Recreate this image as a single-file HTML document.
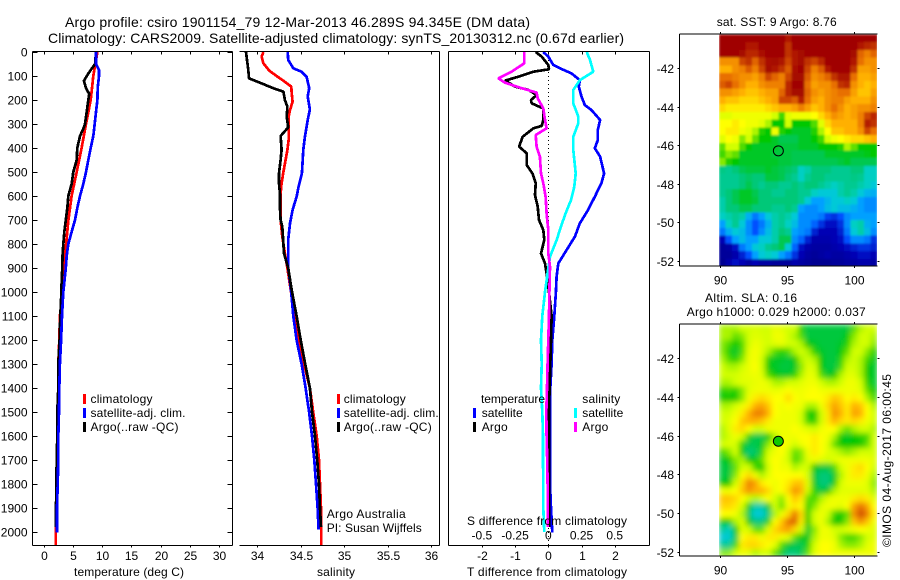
<!DOCTYPE html>
<html lang="en">
<head>
<meta charset="utf-8">
<title>Argo profile csiro 1901154_79</title>
<style>
html,body{margin:0;padding:0;background:#fff;width:900px;height:580px;overflow:hidden}
svg{display:block}
text{font-family:"Liberation Sans",sans-serif;font-size:12px;fill:#000}
.t14{font-size:14px}
</style>
</head>
<body>
<svg id="chart" width="900" height="580" viewBox="0 0 900 580" xmlns="http://www.w3.org/2000/svg">
<defs>
<filter id="soft" x="0" y="0" width="1" height="1" filterUnits="objectBoundingBox"><feGaussianBlur stdDeviation="3" edgeMode="duplicate"/></filter>
<filter id="softer" x="0" y="0" width="1" height="1" filterUnits="objectBoundingBox"><feGaussianBlur stdDeviation="1" edgeMode="duplicate"/></filter>
<clipPath id="clip-sla"><rect x="719" y="324.5" width="158" height="232"/></clipPath>
<clipPath id="clip-sst"><rect x="719" y="34.5" width="158" height="232"/></clipPath>
</defs>
<rect width="900" height="580" fill="#fff"/>
<text class="t14" x="65" y="27" textLength="465">Argo profile: csiro 1901154_79 12-Mar-2013 46.289S 94.345E (DM data)</text>
<text class="t14" x="48" y="43" textLength="576">Climatology: CARS2009. Satellite-adjusted climatology: synTS_20130312.nc (0.67d earlier)</text>
<g id="layer"></g>
<g>
<text x="74" y="576" textLength="110">temperature (deg C)</text>
<rect x="83" y="394" width="3" height="10" fill="#f00"/>
<rect x="83" y="408" width="3" height="10" fill="#00f"/>
<rect x="83" y="422" width="3" height="10" fill="#000"/>
<text x="90.5" y="403" textLength="62">climatology</text>
<text x="90.5" y="417" textLength="95">satellite-adj. clim.</text>
<text x="90.5" y="431" textLength="88">Argo(..raw -QC)</text>
</g>
<g>
<text x="317" y="576" textLength="38">salinity</text>
<rect x="337" y="394" width="3" height="10" fill="#f00"/>
<rect x="337" y="408" width="3" height="10" fill="#00f"/>
<rect x="337" y="422" width="3" height="10" fill="#000"/>
<text x="343.7" y="403" textLength="62">climatology</text>
<text x="343.7" y="417" textLength="95">satellite-adj. clim.</text>
<text x="343.7" y="431" textLength="88">Argo(..raw -QC)</text>
<text x="326.7" y="518" textLength="79">Argo Australia</text>
<text x="326.7" y="532" textLength="95">PI: Susan Wijffels</text>
</g>
<g>
<text x="481" y="403" textLength="64">temperature</text>
<text x="582.3" y="403" textLength="38">salinity</text>
<rect x="473" y="408" width="3" height="10" fill="#00f"/>
<rect x="473" y="422" width="3" height="10" fill="#000"/>
<rect x="574" y="408" width="3" height="10" fill="#0ff"/>
<rect x="574" y="422" width="3" height="10" fill="#f0f"/>
<text x="481.7" y="417" textLength="41">satellite</text>
<text x="481.7" y="431" textLength="26">Argo</text>
<text x="582.3" y="417" textLength="41">satellite</text>
<text x="582.3" y="431" textLength="26">Argo</text>
<text x="467" y="525" textLength="160">S difference from climatology</text>
<text x="467" y="576" textLength="160">T difference from climatology</text>
</g>
<g>
<text x="716.7" y="26" textLength="120">sat. SST: 9 Argo: 8.76</text>
<text x="705" y="302" textLength="92">Altim. SLA: 0.16</text>
<text x="686.7" y="316" textLength="179">Argo h1000: 0.029 h2000: 0.037</text>
<text transform="translate(891,547) rotate(-90)" x="0" y="0" textLength="173">©IMOS 04-Aug-2017 06:00:45</text>
</g>
</svg>
<script>
// ---- temperature panel (deg C) ----
const tempClimDepth = [0,100,200,300,400,500,600,700,800,900,1000,1100,1200,1300,1400,1500,1600,1700,1800,1900,2000,2056];
const tempClimValues = [9.2,8.5,8.05,7.25,6.5,5.66,4.8,4.25,3.85,3.5,3.3,2.8,2.7,2.53,2.53,2.36,2.36,2.25,2.25,2.13,2.1,2.1];
const tempSatDepth = [0,50,75,100,150,200,250,300,350,400,450,500,550,600,650,700,750,800,850,900,1000,1100,1200,1300,1400,1500,1600,1700,1800,1900,2003];
const tempSatValues = [8.96,8.96,9.47,9.47,9.25,9.2,8.96,8.73,8.5,8.05,7.65,7.25,6.8,6.23,5.77,5.37,4.8,4.23,3.96,3.8,3.38,3.16,3,2.8,2.7,2.65,2.53,2.53,2.42,2.3,2.3];
const tempArgoDepth = [0,50,70,90,120,150,175,200,250,300,320,350,400,450,500,550,600,650,700,750,800,850,900,950,1000,1100,1200,1300,1400,1500,1600,1700,1800,1900,1980];
const tempArgoValues = [8.96,8.8,8.2,7.65,6.9,7.25,7.8,7.65,7.37,7.08,6.8,6.23,5.77,5.66,5.09,4.8,4.23,4.06,3.8,3.55,3.38,3.25,3.2,3.1,3.05,2.87,2.75,2.53,2.53,2.36,2.36,2.25,2.2,2.13,2.13];
const tempTicks = [0,5,10,15,20,25,30];
const depthTicks = [0,100,200,300,400,500,600,700,800,900,1000,1100,1200,1300,1400,1500,1600,1700,1800,1900,2000];
// ---- salinity panel ----
const salClimDepth = [0,19,47,78,100,124,144,172,207,242,269,367,408,500,547,589,700,769,839,900,992,1100,1200,1300,1400,1500,1600,1700,1800,1900,2000,2056];
const salClimValues = [34.07,34.05,34.07,34.138,34.222,34.318,34.392,34.396,34.406,34.376,34.36,34.36,34.346,34.3,34.28,34.268,34.268,34.288,34.318,34.346,34.384,34.434,34.48,34.538,34.606,34.644,34.684,34.71,34.722,34.734,34.737,34.737];
const salSatDepth = [0,33,68,82,103,151,186,239,283,353,408,506,561,603,658,714,783,900,992,1100,1200,1300,1400,1500,1600,1700,1800,1900,1990];
const salSatValues = [34.35,34.356,34.414,34.51,34.568,34.598,34.58,34.606,34.58,34.548,34.53,34.514,34.476,34.452,34.406,34.376,34.356,34.356,34.388,34.414,34.452,34.51,34.556,34.596,34.63,34.656,34.676,34.694,34.706];
const salArgoDepth = [0,75,110,128,151,165,200,228,269,314,350,408,450,506,547,589,644,700,728,839,900,992,1100,1200,1300,1400,1500,1600,1700,1800,1900,1980];
const salArgoValues = [33.87,33.896,33.904,34.03,34.184,34.3,34.318,34.346,34.338,34.356,34.268,34.28,34.268,34.25,34.25,34.26,34.26,34.268,34.288,34.308,34.356,34.396,34.452,34.5,34.552,34.606,34.63,34.664,34.69,34.71,34.722,34.734];
const salTicks = [34,34.5,35,35.5,36];
const salTickLabels = ["34","34.5","35","35.5","36"];
// ---- difference panel ----
const dTSatDepth = [0,19,54,68,89,117,144,186,221,242,283,325,367,401,436,506,547,603,658,714,769,825,881,936,1000,1100,1200,1300,1400,1500,1600,1700,1800,1900,2003];
const dTSatValues = [-0.15,0,0.15,0.35,0.7,0.95,0.92,1,1.1,1.3,1.56,1.49,1.49,1.4,1.56,1.68,1.6,1.4,1.2,0.95,0.8,0.55,0.3,0.25,0.23,0.18,0.12,0.1,0.06,0.05,0.05,0.05,0.05,0.08,0.12];
const dTArgoDepth = [0,19,54,72,82,103,119,144,158,179,200,214,235,283,308,318,353,394,422,471,506,547,596,644,700,742,783,839,881,922,1000,1100,1200,1300,1400,1500,1600,1700,1800,1900,1980];
const dTArgoValues = [-0.38,-0.2,0,0.02,-0.45,-0.9,-1.3,-1,-0.6,-0.35,-0.52,-0.5,-0.15,-0.15,-0.2,-0.45,-0.77,-0.88,-0.65,-0.65,-0.48,-0.38,-0.4,-0.32,-0.28,-0.15,-0.12,-0.22,-0.1,-0.05,0.02,0.1,0.08,0.06,0.04,0.02,0.02,0.03,0.02,0.02,0.02];
const dSSatDepth = [0,33,82,117,158,214,269,297,353,408,506,561,617,672,728,783,853,922,1000,1100,1200,1300,1400,1500,1600,1700,1800,1900,2000];
const dSSatValues = [0.289,0.314,0.339,0.238,0.188,0.188,0.226,0.226,0.188,0.188,0.206,0.196,0.171,0.13,0.095,0.063,0.013,-0.005,-0.025,-0.045,-0.055,-0.05,-0.055,-0.045,-0.04,-0.04,-0.038,-0.038,-0.03];
const dSArgoDepth = [0,47,82,110,128,151,169,193,235,283,318,346,394,436,506,547,603,672,742,839,894,1000,1100,1200,1300,1400,1500,1600,1700,1800,1900,1980];
const dSArgoValues = [-0.181,-0.181,-0.276,-0.376,-0.326,-0.2,-0.088,-0.08,-0.038,-0.025,-0.013,-0.095,-0.088,-0.063,-0.055,-0.038,-0.02,-0.013,0,0,0.013,0.008,0.005,0,-0.005,-0.01,-0.015,-0.013,-0.008,-0.005,-0.005,-0.005];
const dTTicks = [-2,-1,0,1,2];
const dSTicks = [-0.5,-0.25,0,0.25,0.5];
const dSTickLabels = ["-0.5","-0.25","0","0.25","0.5"];
// ---- maps ----
const lonTicks = [90,95,100];
const latTicks = [-42,-44,-46,-48,-50,-52];
const floatLon = 94.345;
const floatLat = -46.289;
const sstGrid = [
[100,100,100,100,100,100,100,100,100,100,95,100,100,100,100,100,100,100,100,100,100,100,100,100],
[100,100,100,100,95,95,100,100,100,100,90,100,100,100,100,100,100,100,100,100,100,95,92,90],
[100,100,100,98,92,92,97,100,100,100,90,95,98,100,100,100,100,100,100,100,98,85,82,85],
[80,80,80,88,90,85,90,97,98,96,88,95,98,90,88,92,100,100,100,100,95,84,80,80],
[76,76,80,82,86,82,88,98,95,90,86,97,100,88,82,86,95,100,100,100,90,78,78,80],
[84,84,82,80,80,78,82,88,85,82,88,98,98,86,80,82,85,90,96,96,84,76,76,78],
[86,88,84,80,76,76,80,82,82,82,92,100,100,84,78,80,80,84,90,92,80,76,74,76],
[80,80,78,76,74,74,76,78,78,85,92,98,98,85,80,78,80,82,84,84,78,74,74,78],
[76,74,74,72,72,72,74,76,78,88,88,86,94,84,78,76,80,82,82,78,76,76,76,80],
[72,70,70,70,70,70,70,72,74,76,76,78,82,78,74,76,80,84,80,76,78,80,80,82],
[64,64,66,66,66,66,66,66,62,54,64,66,66,66,68,72,76,80,78,76,78,82,88,92],
[68,68,70,68,66,66,64,60,50,50,62,50,50,50,55,64,72,76,76,76,76,82,94,90],
[68,70,70,66,64,60,52,50,66,52,50,48,48,48,52,60,68,74,74,76,76,80,88,84],
[64,68,66,58,62,56,50,50,48,46,46,46,48,48,50,54,62,66,68,70,72,72,74,76],
[56,62,62,55,50,48,48,48,48,47,47,47,48,48,48,50,50,50,52,60,56,50,50,50],
[54,58,56,48,48,48,48,48,47,47,47,46,46,46,46,46,48,48,48,48,48,48,49,50],
[58,52,50,48,48,48,48,48,48,47,47,46,46,46,46,46,46,46,47,48,46,46,46,46],
[43,42,44,46,47,47,47,48,47,46,45,44,38,40,44,44,44,42,42,42,44,44,38,38],
[42,42,42,44,45,44,44,47,47,46,44,42,38,42,44,44,42,42,42,42,43,42,38,38],
[42,42,42,44,46,44,42,44,44,42,42,44,42,44,44,42,40,38,40,42,42,40,38,36],
[42,44,46,48,48,46,44,44,42,42,44,44,42,42,38,36,36,36,40,42,40,36,33,32],
[40,44,46,48,48,47,44,44,44,44,44,44,42,36,30,30,33,36,36,38,36,30,28,28],
[40,44,44,46,46,44,44,44,42,42,44,42,30,28,28,30,34,36,34,34,32,30,28,28],
[38,40,42,40,32,26,30,36,40,42,40,36,28,28,28,26,20,18,22,28,30,30,30,30],
[30,38,42,36,28,22,26,32,40,42,38,34,28,28,24,18,14,14,18,28,38,40,32,30],
[26,32,36,34,28,22,28,34,40,44,42,30,28,26,16,12,12,12,16,26,36,40,34,28],
[12,22,30,34,30,30,36,36,40,46,46,28,24,16,10,10,10,12,14,22,28,28,26,18],
[6,8,14,26,30,36,38,42,44,46,36,24,14,10,8,8,8,10,12,14,16,18,18,16],
[6,6,10,16,22,30,36,38,36,30,26,18,12,8,6,8,10,8,8,10,12,14,14,12],
[4,10,14,12,8,12,8,8,6,6,6,10,8,6,4,4,4,6,6,8,8,10,10,8]
];
const slaGrid = [
[60,60,60,62,62,63,62,62,65,64,62,62,52,47,47,47,47,47,47,47,55,60,62,62],
[60,60,56,58,62,64,63,62,66,66,62,60,55,47,47,47,47,47,47,50,58,62,62,60],
[58,55,50,55,62,66,64,62,64,65,62,62,60,50,48,47,47,47,48,52,60,62,62,58],
[58,52,48,55,64,67,64,60,55,52,55,60,62,60,52,48,47,47,50,56,62,62,58,52],
[60,55,52,58,65,67,62,52,48,48,47,50,60,62,60,50,47,47,52,60,62,60,54,49],
[62,60,60,62,65,68,62,50,48,47,47,48,58,64,62,50,47,47,54,62,62,60,50,48],
[62,62,62,64,65,66,64,55,50,48,48,52,60,65,64,55,48,50,60,64,64,60,50,48],
[60,60,62,64,64,65,66,64,60,60,62,62,64,66,66,62,60,60,62,66,66,62,52,48],
[52,54,52,58,64,66,66,66,65,66,68,66,66,67,68,66,66,66,66,66,66,64,56,50],
[50,50,50,58,66,70,72,70,68,68,72,68,66,68,68,68,70,74,72,68,70,68,60,54],
[60,60,62,66,70,76,78,74,68,66,68,66,66,60,60,66,72,78,74,70,76,74,68,60],
[62,62,66,70,76,82,82,76,68,66,66,66,62,52,50,62,70,80,76,70,78,76,68,62],
[62,64,68,74,76,76,74,70,66,66,66,66,62,54,52,62,70,76,72,70,72,70,66,62],
[60,64,70,72,68,62,62,66,66,66,66,68,66,64,62,66,68,68,60,56,60,62,62,60],
[60,62,66,62,52,46,46,50,60,66,66,66,68,68,70,68,66,60,50,48,50,52,54,62],
[62,64,62,52,46,46,48,58,64,68,66,62,66,68,70,68,64,56,50,50,50,50,56,62],
[54,58,62,50,44,45,52,62,66,68,62,56,58,66,70,68,64,62,60,58,60,62,62,62],
[48,50,58,60,50,50,56,64,68,66,62,54,58,64,66,64,62,64,66,66,66,66,66,64],
[47,47,56,62,62,54,50,62,68,66,66,60,62,62,50,47,47,54,62,66,70,72,68,62],
[47,47,58,68,72,66,60,64,68,68,68,68,68,62,47,44,44,48,60,66,70,70,66,60],
[50,50,62,72,82,78,70,68,66,68,70,74,74,64,48,44,44,50,62,66,66,66,64,58],
[66,66,68,74,80,76,76,72,66,68,72,80,76,62,52,47,50,60,64,64,64,64,64,60],
[74,74,72,68,62,60,62,68,62,58,68,74,70,56,54,60,64,66,66,66,70,72,70,64],
[72,72,70,62,50,40,40,48,62,56,66,70,68,52,58,64,66,66,64,68,78,84,78,68],
[68,68,66,60,46,36,36,44,60,66,72,84,72,52,62,66,62,54,50,56,80,88,82,70],
[50,50,60,64,50,44,44,52,68,74,84,86,70,50,62,66,60,50,50,58,74,80,74,66],
[42,38,50,64,62,56,56,64,72,76,78,72,62,48,58,66,66,62,62,64,66,68,66,64],
[36,36,46,68,70,70,66,70,70,66,64,56,50,48,60,66,66,64,58,54,54,58,62,64],
[42,42,54,70,72,72,70,68,64,55,48,46,46,52,62,68,68,66,60,58,58,60,64,66],
[58,58,62,66,64,60,62,62,56,48,44,44,46,56,64,68,68,66,66,66,66,66,66,66]
];

const NS = "http://www.w3.org/2000/svg";
const layer = document.getElementById("layer");
function make(tag, attrs, parent){
  const e = document.createElementNS(NS, tag);
  for (const k in attrs) e.setAttribute(k, attrs[k]);
  (parent || layer).appendChild(e);
  return e;
}
// axis functions
const yDepth = d => 52 + 0.24 * d;
const xTemp = t => 43.5 + 5.86 * t;
const xSal = s => 257.3 + 86.85 * (s - 34);
const xDT = v => 548.3 + 33.2 * v;
const xDS = v => 548.3 + 132.8 * v;
const xLon = lon => 720 + (lon - 90) * 13.43;
const ySst = lat => 68.3 + (-42 - lat) * 19.24;
const ySla = lat => 358.3 + (-42 - lat) * 19.34;

function seriesLine(depths, values, xFn, color, parent){
  const pts = depths.map((d, i) => xFn(values[i]).toFixed(1) + "," + yDepth(d).toFixed(1)).join(" ");
  return make("polyline", {points: pts, fill: "none", stroke: color, "stroke-width": 2.7, "stroke-linejoin": "bevel", "shape-rendering": "crispEdges"}, parent);
}
function axisLine(x1, y1, x2, y2, parent){
  return make("line", {x1, y1, x2, y2, stroke: "#000", "stroke-width": 1, "shape-rendering": "crispEdges"}, parent);
}
function label(x, y, str, anchor, parent){
  const t = make("text", {x, y, "text-anchor": anchor}, parent);
  t.textContent = str;
  return t;
}

// temperature panel
const p1 = make("g", {});


const l1a = seriesLine(tempClimDepth, tempClimValues, xTemp, "#f00", p1);


const l1c = seriesLine(tempArgoDepth, tempArgoValues, xTemp, "#000", p1);


const l1b = seriesLine(tempSatDepth, tempSatValues, xTemp, "#00f", p1);


axisLine(32.5, 51.5, 232.5, 51.5, p1);
axisLine(32.5, 545.5, 232.5, 545.5, p1);
axisLine(32.5, 51.5, 32.5, 545.5, p1);
axisLine(232.5, 51.5, 232.5, 545.5, p1);
depthTicks.forEach(d => {
  const y = Math.round(yDepth(d)) + 0.5;
  axisLine(32.5, y, 37.5, y, p1);
  axisLine(227.5, y, 232.5, y, p1);
  const t = label(27.5, y + 4, String(d), "end", p1);
  
  
});
tempTicks.forEach(v => {
  const x = Math.round(xTemp(v)) + 0.5;
  axisLine(x, 51.5, x, 54.5, p1);
  axisLine(x, 545.5, x, 547.5, p1);
  const t = label(x, 560, String(v), "middle", p1);
  
  
});

// salinity panel
const p2 = make("g", {});


const l2a = seriesLine(salClimDepth, salClimValues, xSal, "#f00", p2);


const l2b = seriesLine(salSatDepth, salSatValues, xSal, "#00f", p2);


const l2c = seriesLine(salArgoDepth, salArgoValues, xSal, "#000", p2);


axisLine(239.5, 51.5, 439.5, 51.5, p2);
axisLine(239.5, 545.5, 439.5, 545.5, p2);
axisLine(439.5, 51.5, 439.5, 545.5, p2);
salTicks.forEach((v, i) => {
  const x = Math.round(xSal(v)) + 0.5;
  axisLine(x, 51.5, x, 54.5, p2);
  axisLine(x, 545.5, x, 547.5, p2);
  const t = label(x, 560, salTickLabels[i], "middle", p2);
  
  
});

// difference panel
const p3 = make("g", {});


const zeroLine = make("line", {x1: xDT(0), y1: 52, x2: xDT(0), y2: 545, stroke: "#000", "stroke-width": 1, "stroke-dasharray": "1 3", "shape-rendering": "crispEdges"}, p3);


const l3a = seriesLine(dTSatDepth, dTSatValues, xDT, "#00f", p3);


const l3b = seriesLine(dTArgoDepth, dTArgoValues, xDT, "#000", p3);


const l3c = seriesLine(dSSatDepth, dSSatValues, xDS, "#0ff", p3);


const l3d = seriesLine(dSArgoDepth, dSArgoValues, xDS, "#f0f", p3);


axisLine(448.5, 51.5, 649.5, 51.5, p3);
axisLine(448.5, 545.5, 649.5, 545.5, p3);
axisLine(448.5, 51.5, 448.5, 545.5, p3);
axisLine(649.5, 51.5, 649.5, 545.5, p3);
dTTicks.forEach(v => {
  const x = Math.round(xDT(v)) + 0.5;
  axisLine(x, 51.5, x, 54.5, p3);
  axisLine(x, 545.5, x, 547.5, p3);
  const t = label(x, 560, String(v), "middle", p3);
  
  
});
dSTicks.forEach((v, i) => {
  const t = label(xDS(v), 539.5, dSTickLabels[i], "middle", p3);
  
  
});

// colour scale for maps
const colorStops = [[0,0,0,127],[12,0,0,180],[22,0,80,255],[30,0,160,255],[37,0,208,208],[44,0,200,120],[50,0,200,0],[56,96,224,0],[62,210,255,0],[68,255,255,0],[76,255,176,0],[84,232,112,0],[90,192,48,0],[100,160,0,0]];
function colorOf(v){
  for (let i = 1; i < colorStops.length; i++){
    if (v <= colorStops[i][0]){
      const a = colorStops[i-1], b = colorStops[i], f = (v - a[0]) / (b[0] - a[0]);
      return "rgb(" + [1,2,3].map(k => Math.round(a[k] + (b[k] - a[k]) * f)).join(",") + ")";
    }
  }
  return "rgb(160,0,0)";
}
function drawGrid(grid, top, parent){
  const rows = grid.length, cols = grid[0].length;
  const cw = 158 / cols, ch = 232 / rows;
  grid.forEach((row, r) => row.forEach((v, c) => {
    make("rect", {x: (719 + c * cw).toFixed(2), y: (top + r * ch).toFixed(2), width: (cw + 0.4).toFixed(2), height: (ch + 0.4).toFixed(2), fill: colorOf(v), "shape-rendering": "crispEdges"}, parent);
  }));
}
function drawMapAxes(top, yFn, parent, namePrefix){
  const bottom = top + 232;
  axisLine(679.5, top - 0.5, 877.5, top - 0.5, parent);
  axisLine(679.5, bottom - 0.5, 877.5, bottom - 0.5, parent);
  axisLine(679.5, top - 0.5, 679.5, bottom - 0.5, parent);
  lonTicks.forEach(lon => {
    const x = Math.round(xLon(lon)) + 0.5;
    axisLine(x, top - 2.5, x, top - 0.5, parent);
    axisLine(x, bottom - 0.5, x, bottom + 1.5, parent);
    const t = label(x, bottom + 18, String(lon), "middle", parent);
    
    
  });
  latTicks.forEach(lat => {
    const y = Math.round(yFn(lat)) + 0.5;
    axisLine(677.5, y, 679.5, y, parent);
    axisLine(877.5, y, 879.5, y, parent);
    const t = label(674, y + 4.5, String(lat), "end", parent);
    
    
  });
}

// SST map
const m1 = make("g", {});


const m1clip = make("g", {"clip-path": "url(#clip-sst)"}, m1);
const m1cells = make("g", {filter: "url(#softer)"}, m1clip);


drawGrid(sstGrid, 34.5, m1cells);
drawMapAxes(34.5, ySst, m1, 'sst');
const c1 = make("circle", {cx: xLon(floatLon), cy: ySst(floatLat), r: 5, fill: "none", stroke: "#000", "stroke-width": 1}, m1);



// SLA map
const m2 = make("g", {});


const m2clip = make("g", {"clip-path": "url(#clip-sla)"}, m2);
const m2cells = make("g", {filter: "url(#soft)"}, m2clip);


drawGrid(slaGrid, 324.5, m2cells);
drawMapAxes(324.5, ySla, m2, 'sla');
const c2 = make("circle", {cx: xLon(floatLon), cy: ySla(floatLat), r: 5, fill: "#10c800", stroke: "#000", "stroke-width": 1}, m2);


</script>
</body>
</html>
